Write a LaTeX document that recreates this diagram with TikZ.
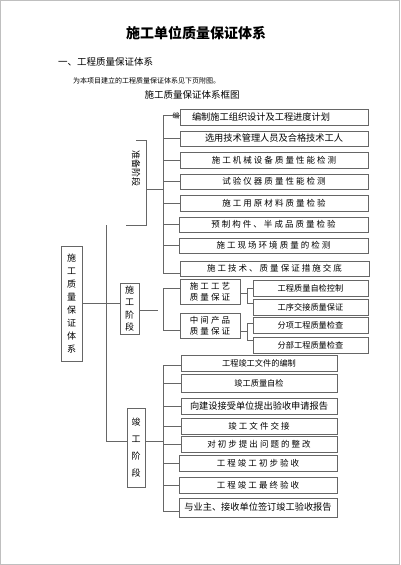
\documentclass[tikz,border=0pt]{standalone}
\usepackage{fontspec}
\setmainfont{Noto Sans CJK SC}
\newfontfamily\cjksp{Noto Sans CJK SC}[LetterSpace=24]
\usepackage{tikz}
\newcommand{\fa}{\fontsize{8.2}{9}\selectfont}
\newcommand{\fb}{\fontsize{9.2}{10}\selectfont}
\newcommand{\fc}{\cjksp\fontsize{8.5}{11}\selectfont}

\begin{document}
\begin{tikzpicture}[x=1pt,y=-1pt,
  box/.style={draw=black!60,line width=0.7pt,rectangle,inner sep=0pt,align=center},
  lnk/.style={draw=black!60,line width=0.7pt}]
 \useasboundingbox (0,0) rectangle (400,565);
 \draw[black!25] (0.5,0.5) rectangle (399.5,564.5);

 \node [inner sep=0pt] (title) at (196,33) {\fontsize{14}{16}\selectfont\bfseries 施工单位质量保证体系};
 \node [inner sep=0pt,anchor=west] (sec) at (58,62) {\fontsize{9.5}{11}\selectfont 一、工程质量保证体系};
 \node [inner sep=0pt,anchor=west] (intro) at (73,81) {\fontsize{7}{8}\selectfont 为本项目建立的工程质量保证体系见下页附图。};
 \node [inner sep=0pt] (cap) at (192,95) {\fontsize{9.5}{11}\selectfont 施工质量保证体系框图};

 \node [box,minimum width=21,minimum height=115,font=\fontsize{9}{13}\selectfont] (sys) at (71.5,303.5) {施\\工\\质\\量\\保\\证\\体\\系};

 % 准备阶段
 \node [inner sep=0pt,minimum width=23,minimum height=84] (prep) at (134.5,183) {};
 \node [inner sep=0pt,rotate=-90,font=\fontsize{9}{10}\selectfont] (preplbl) at (136,168) {准备阶段};
 \node [box,minimum width=188,minimum height=16,font=\fb] (p1) at (274,117) {编制施工组织设计及工程进度计划\hspace*{26pt}};
 \node [box,minimum width=188,minimum height=15,font=\fb] (p2) at (274,138.5) {选用技术管理人员及合格技术工人};
 \node [box,minimum width=188,minimum height=16,font=\fc] (p3) at (274,160) {施工机械设备质量性能检测};
 \node [box,minimum width=188,minimum height=15,font=\fc] (p4) at (274,181.5) {试验仪器质量性能检测};
 \node [box,minimum width=188,minimum height=16,font=\fc] (p5) at (274,203) {施工用原材料质量检验};
 \node [box,minimum width=189,minimum height=15,font=\fc] (p6) at (273.5,224.5) {预制构件、半成品质量检验};
 \node [box,minimum width=189,minimum height=15,font=\fc] (p7) at (273.5,245.5) {施工现场环境质量的检测};
 \node [box,minimum width=189,minimum height=15,font=\fc] (p8) at (274.5,268.5) {施工技术、质量保证措施交底};
 \node [inner sep=0pt,font=\fontsize{7}{8}\selectfont] (stray) at (176,115.5) {编};

 % 施工阶段
 \node [box,minimum width=19,minimum height=51,font=\fontsize{9}{12.5}\selectfont] (sg) at (129.5,308.5) {施\\工\\阶\\段};
 \node [box,minimum width=60,minimum height=25,font=\fc] (g1) at (210,291.5) {施工工艺\\质量保证};
 \node [box,minimum width=60,minimum height=25,font=\fc] (g2) at (210,325.5) {中间产品\\质量保证};
 \node [box,minimum width=115,minimum height=16,font=\fa] (s1) at (310.5,288) {工程质量自检控制};
 \node [box,minimum width=115,minimum height=16,font=\fa] (s2) at (310.5,307) {工序交接质量保证};
 \node [box,minimum width=115,minimum height=16,font=\fa] (s3) at (310.5,325) {分项工程质量检查};
 \node [box,minimum width=115,minimum height=16,font=\fa] (s4) at (310.5,345) {分部工程质量检查};

 % 竣工阶段
 \node [box,minimum width=18,minimum height=79,font=\fontsize{9}{17}\selectfont] (jg) at (136,447.5) {竣\\工\\阶\\段};
 \node [box,minimum width=156,minimum height=16,font=\fa] (c1) at (259,363) {工程竣工文件的编制};
 \node [box,minimum width=156,minimum height=18,font=\fa] (c2) at (259,383) {竣工质量自检};
 \node [box,minimum width=156,minimum height=16,font=\fb] (c3) at (259,406) {向建设接受单位提出验收申请报告};
 \node [box,minimum width=156,minimum height=16,font=\fc] (c4) at (259,426) {竣工文件交接};
 \node [box,minimum width=156,minimum height=16,font=\fc] (c5) at (259,444) {对初步提出问题的整改};
 \node [box,minimum width=158,minimum height=16,font=\fc] (c6) at (258,463) {工程竣工初步验收};
 \node [box,minimum width=158,minimum height=16,font=\fc] (c7) at (258,485) {工程竣工最终验收};
 \node [box,minimum width=158,minimum height=19,font=\fb] (c8) at (258,507.5) {与业主、接收单位签订竣工验收报告};

 % spine
 \coordinate (spt) at (106,225);
 \coordinate (spb) at (106,441);
 \draw[lnk] (sys.east) -- (sys.east -| sg.west);
 \draw[lnk] (spt) -- (spb) -- (spb -| jg.west);

 \draw[lnk] ([xshift=13pt]prep.north west) -- (prep.north east) -- (prep.south east) -- ([xshift=3pt]prep.south west);
 \coordinate (pbt) at (163,115);
 \coordinate (pbb) at (163,273);
 \draw[lnk] ([yshift=-6pt]prep.east) coordinate (pj) -- (pj -| pbt);
 \draw[lnk] (pbt -| p1.west) -- (pbt) -- (pbb) -- (pbb -| p8.west);
 \foreach \k in {2,...,7}
  \draw[lnk] (pbt |- p\k.west) -- (p\k.west);

 \draw[lnk] ([yshift=-1.5pt]sg.east) -- ++(19,0);
 \coordinate (gbt) at (163,288);
 \coordinate (gbb) at (163,330);
 \draw[lnk] (gbt -| g1.west) -- (gbt) -- (gbb) -- (gbb -| g2.west);
 \draw[lnk] ([yshift=-1.5pt]g1.east) -- ++(7,0);
 \coordinate (t1) at (247,288);
 \coordinate (b1) at (247,303);
 \draw[lnk] (t1 -| s1.west) -- (t1) -- (b1) -- (b1 -| s2.west);
 \draw[lnk] ([yshift=-5.5pt]g2.east) -- ++(7,0);
 \coordinate (t2) at (247,323);
 \coordinate (b2) at (247,340);
 \draw[lnk] (t2 -| s3.west) -- (t2) -- (b2) -- (b2 -| s4.west);

 \coordinate (cbt) at (163,365);
 \coordinate (cbb) at (163,511);
 \draw[lnk] (spb -| jg.east) -- (spb -| cbt);
 \draw[lnk] (cbt -| c1.west) -- (cbt) -- (cbb) -- (cbb -| c8.west);
 \foreach \k in {2,...,7}
  \draw[lnk] (cbt |- c\k.west) -- (c\k.west);
\end{tikzpicture}
\end{document}
